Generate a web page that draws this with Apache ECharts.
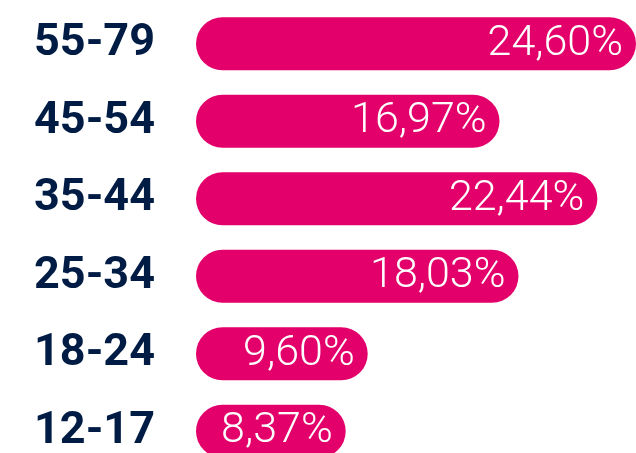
<!DOCTYPE html>
<html><head><meta charset="utf-8">
<script src="https://cdn.jsdelivr.net/npm/echarts@6/dist/echarts.min.js"></script>
<style>html,body{margin:0;padding:0;background:#fff}#c{width:636px;height:453px}</style>
</head><body><div id="c"></div>
<script>
const categories = ["55-79","45-54","35-44","25-34","18-24","12-17"];
const values = [24.60,16.97,22.44,18.03,9.60,8.37];
const chart = echarts.init(document.getElementById('c'), null, {renderer:'canvas'});
chart.setOption({
  animation:false,
  grid:{left:196, top:5, width:440, height:465, containLabel:false, outerBoundsMode:'none'},
  xAxis:{type:'value', min:0, max:24.6, show:false},
  yAxis:{type:'category', inverse:true, data:categories,
    axisLine:{show:false}, axisTick:{show:false}, splitLine:{show:false},
    axisLabel:{align:'left', margin:162, color:'#011C44', fontFamily:'Roboto', fontWeight:'bold', fontSize:45}},
  series:[{type:'bar', data:values, barWidth:53,
    itemStyle:{color:'#E3006A', borderRadius:26.5},
    label:{show:true, position:'insideRight', distance:13, color:'#fff', fontFamily:'Roboto', fontWeight:300, fontSize:43,
      formatter:p=>p.value.toFixed(2).replace('.',',')+'%'}
  }]
});
</script></body></html>
